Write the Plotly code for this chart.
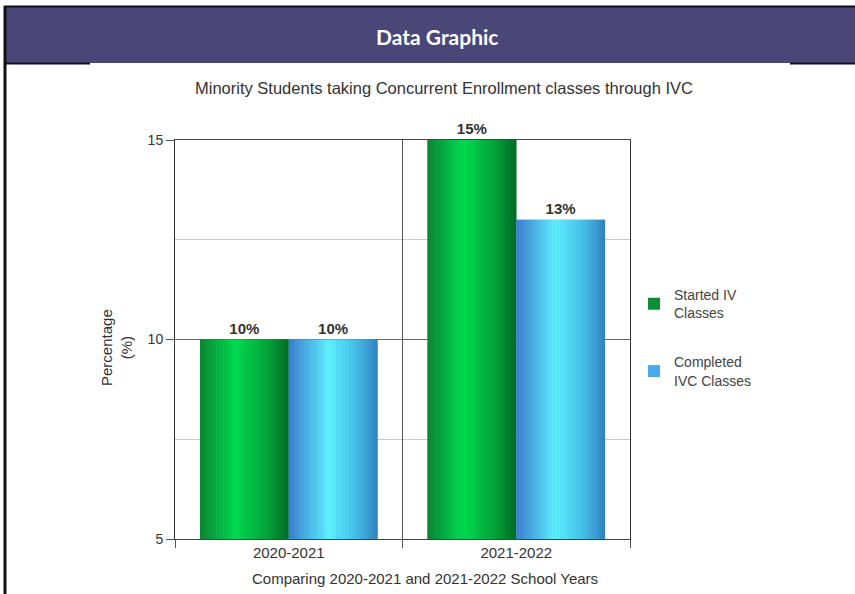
import plotly.graph_objects as go

# ---- data ----
school_years = ["2020-2021", "2021-2022"]
started_ivc = [10, 15]
completed_ivc = [10, 13]
series_names = ["Started IV<br>Classes", "Completed<br>IVC Classes"]
y_ticks = [5, 10, 15]

# ---- figure geometry (pixels) ----
W, H = 855, 594
L, R, T, B = 175, 225, 140, 55
PW, PH = W - L - R, H - T - B

FONT = "Liberation Sans, Arial"
TXT = "#333333"


def px_x(x):
    return (x - L) / PW


def px_y(y):
    return (H - B - y) / PH


def hex_to_rgb(h):
    h = h.lstrip("#")
    return tuple(int(h[i:i + 2], 16) for i in (0, 2, 4))


def gradient(stops, t):
    for (t0, c0), (t1, c1) in zip(stops, stops[1:]):
        if t0 <= t <= t1:
            f = (t - t0) / (t1 - t0) if t1 > t0 else 0
            a, b = hex_to_rgb(c0), hex_to_rgb(c1)
            return "rgb(%d,%d,%d)" % tuple(round(a[i] + (b[i] - a[i]) * f) for i in range(3))
    return stops[-1][1]


green_stops = [(0.0, "#0c8534"), (0.4, "#00dc50"), (0.75, "#03a43a"), (1.0, "#006a22")]
blue_stops = [(0.0, "#3a7ccc"), (0.45, "#5ef0ff"), (0.75, "#45c0e8"), (1.0, "#3280bf")]

BAR_W = 0.39
N_SLICES = 28

fig = go.Figure()

series = [
    (series_names[0], started_ivc, "#0a8f33", green_stops, -BAR_W),
    (series_names[1], completed_ivc, "#4aa8ec", blue_stops, 0.0),
]

for name, vals, base_color, stops, off in series:
    # solid base bar carrying the legend entry and the value label
    fig.add_trace(go.Bar(
        x=school_years, y=vals, name=name,
        width=BAR_W, offset=off,
        marker=dict(color=base_color, line=dict(width=0)),
        text=[f"{v}%" for v in vals],
        texttemplate="<b>%{text}</b>",
        textposition="outside",
        textfont=dict(family=FONT, size=15, color=TXT),
        cliponaxis=False,
        legendgroup=name,
        hoverinfo="skip",
    ))
    # shaded slices for the cylindrical look
    sw = BAR_W / N_SLICES
    for i in range(N_SLICES):
        t = (i + 0.5) / N_SLICES
        fig.add_trace(go.Bar(
            x=school_years, y=vals,
            width=sw * 1.05, offset=off + i * sw,
            marker=dict(color=gradient(stops, t), line=dict(width=0)),
            showlegend=False, legendgroup=name,
            hoverinfo="skip",
        ))

fig.update_layout(
    width=W, height=H,
    margin=dict(l=L, r=R, t=T, b=B),
    paper_bgcolor="white", plot_bgcolor="white",
    barmode="overlay",
    font=dict(family=FONT, size=14, color=TXT),
    showlegend=True,
    legend=dict(
        x=px_x(634), y=px_y(279), xanchor="left", yanchor="top",
        font=dict(family=FONT, size=14, color="#444444"),
        tracegroupgap=28, traceorder="grouped",
        bgcolor="rgba(0,0,0,0)",
    ),
)

fig.update_xaxes(
    type="category", tickson="boundaries",
    ticks="outside", ticklen=8, tickcolor="#555555",
    showgrid=True, gridcolor="#555555", gridwidth=1,
    showline=True, linecolor="#444444", linewidth=1, mirror=True,
    tickfont=dict(family=FONT, size=15, color=TXT),
    range=[-0.5, 1.5],
)

fig.update_yaxes(
    range=[5, 15], tickvals=y_ticks,
    ticks="outside", ticklen=8, tickcolor="#555555",
    showgrid=True, gridcolor="#666666", gridwidth=1,
    minor=dict(dtick=2.5, tick0=5, showgrid=True, gridcolor="#c8c8c8", gridwidth=1),
    showline=True, linecolor="#333333", linewidth=1, mirror=True,
    tickfont=dict(family=FONT, size=14, color=TXT),
    zeroline=False,
)

# ---- page framing: header banner and left rule ----
shapes = [
    dict(type="rect", xref="paper", yref="paper",
         x0=px_x(5), x1=px_x(856), y0=px_y(63), y1=px_y(7),
         fillcolor="#4a4678", line=dict(width=0), layer="below"),
    dict(type="line", xref="paper", yref="paper",
         x0=px_x(4), x1=px_x(856), y0=px_y(6.5), y1=px_y(6.5),
         line=dict(color="#111111", width=2)),
    dict(type="line", xref="paper", yref="paper",
         x0=px_x(4), x1=px_x(90), y0=px_y(63.5), y1=px_y(63.5),
         line=dict(color="#111122", width=2)),
    dict(type="line", xref="paper", yref="paper",
         x0=px_x(790), x1=px_x(856), y0=px_y(63.5), y1=px_y(63.5),
         line=dict(color="#111122", width=2)),
    dict(type="line", xref="paper", yref="paper",
         x0=px_x(5), x1=px_x(5), y0=px_y(6), y1=px_y(600),
         line=dict(color="#111111", width=3)),
]
fig.update_layout(shapes=shapes)

annotations = [
    dict(text="<b>Data Graphic</b>", xref="paper", yref="paper",
         x=px_x(437), y=px_y(36), xanchor="center", yanchor="middle",
         showarrow=False, font=dict(family="Lato, Open Sans", size=21, color="white")),
    dict(text="Minority Students taking Concurrent Enrollment classes through IVC",
         xref="paper", yref="paper", x=px_x(444), y=px_y(88),
         xanchor="center", yanchor="middle", showarrow=False,
         font=dict(family=FONT, size=16.5, color=TXT)),
    dict(text="Comparing 2020-2021 and 2021-2022 School Years",
         xref="paper", yref="paper", x=px_x(425), y=px_y(578),
         xanchor="center", yanchor="middle", showarrow=False,
         font=dict(family=FONT, size=15, color=TXT)),
    dict(text="Percentage<br>(%)", xref="paper", yref="paper",
         x=px_x(116), y=px_y(348), xanchor="center", yanchor="middle",
         textangle=-90, showarrow=False,
         font=dict(family=FONT, size=15, color=TXT)),
]
fig.update_layout(annotations=annotations)

fig.write_html("out.html")
